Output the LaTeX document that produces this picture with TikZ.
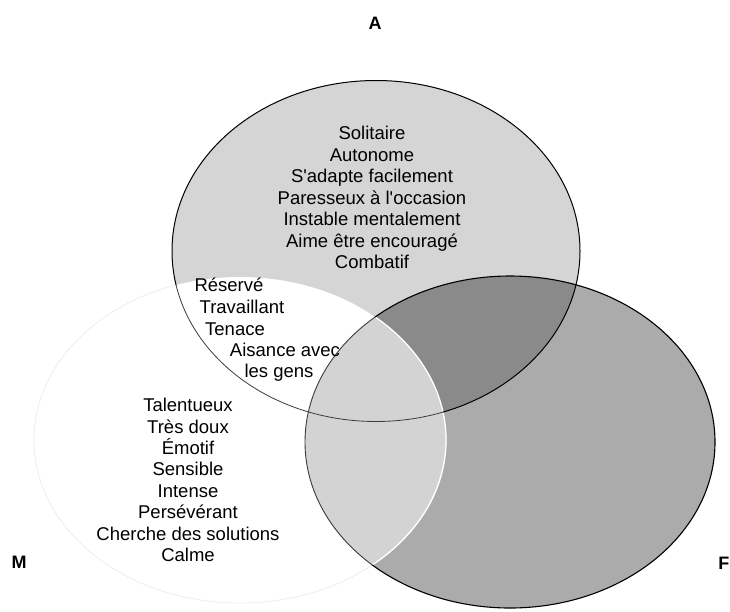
\documentclass[tikz,border=0pt]{standalone}
\usepackage{fontspec}
\setmainfont{Liberation Sans}
\definecolor{aonly}{HTML}{D5D5D5}
\definecolor{fonly}{HTML}{ABABAB}
\definecolor{afreg}{HTML}{8A8A8A}
\definecolor{mfreg}{HTML}{D3D3D3}
\definecolor{mline}{HTML}{EDEDED}
\definecolor{inline}{HTML}{3C3C3C}
\def\ellA{(376,251) ellipse [x radius=204pt, y radius=170.5pt]}
\def\ellF{(510,442) ellipse [x radius=205pt, y radius=166pt]}
\def\ellM{(240,440) ellipse [x radius=206pt, y radius=163pt]}
\begin{document}
\begin{tikzpicture}[x=1pt,y=-1pt,
  txt/.style={font=\fontsize{18.5}{21.5}\selectfont, inner sep=0pt, anchor=base},
  setlbl/.style={font=\fontsize{18}{20}\selectfont\bfseries, inner sep=0pt, anchor=base}]
\useasboundingbox (0,0) rectangle (730,611);
% fills
\fill[aonly] \ellA;
\fill[fonly] \ellF;
\begin{scope}
  \clip \ellF;
  \fill[afreg] \ellA;
\end{scope}
\begin{scope}
  \clip \ellM;
  \fill[white] \ellA;
  \fill[mfreg] \ellF;
\end{scope}
% outlines
\begin{scope}[even odd rule]
  \clip (0,0) rectangle (730,611) \ellA;
  \draw[mline, line width=0.8pt] \ellM;
\end{scope}
\begin{scope}
  \clip \ellF;
  \draw[white, line width=1.3pt] \ellM;
\end{scope}
\begin{scope}[even odd rule]
  \clip (0,0) rectangle (730,611) \ellM;
  \draw[black, line width=1pt] \ellA;
  \draw[black, line width=1.1pt] \ellF;
\end{scope}
\begin{scope}
  \clip \ellM;
  \draw[inline, line width=0.8pt] \ellA;
  \draw[inline, line width=0.9pt] \ellF;
\end{scope}
% set labels
\node[setlbl] (labA) at (375,29.5) {A};
\node[setlbl] (labM) at (19,568) {M};
\node[setlbl, anchor=base east] (labF) at (729.5,569) {F};
% A list
\foreach \t [count=\i from 0] in {Solitaire,Autonome,S\textquotesingle adapte facilement,Paresseux à l\textquotesingle occasion,Instable mentalement,Aime être encouragé,Combatif}
  \node[txt] (a\i) at (372,139.5+21.5*\i) {\t};
% A and M
\node[txt] (am1) at (229,291.7) {Réservé};
\node[txt] (am2) at (242,313.3) {Travaillant};
\node[txt] (am3) at (235,335) {Tenace};
\node[txt] (am4) at (285,356) {Aisance avec};
\node[txt] (am5) at (279,377.7) {les gens};
% M list
\foreach \t [count=\i from 0] in {Talentueux,Très doux,Émotif,Sensible,Intense,Persévérant,Cherche des solutions,Calme}
  \node[txt] (m\i) at (188,411.7+21.4*\i) {\t};
\end{tikzpicture}
\end{document}
